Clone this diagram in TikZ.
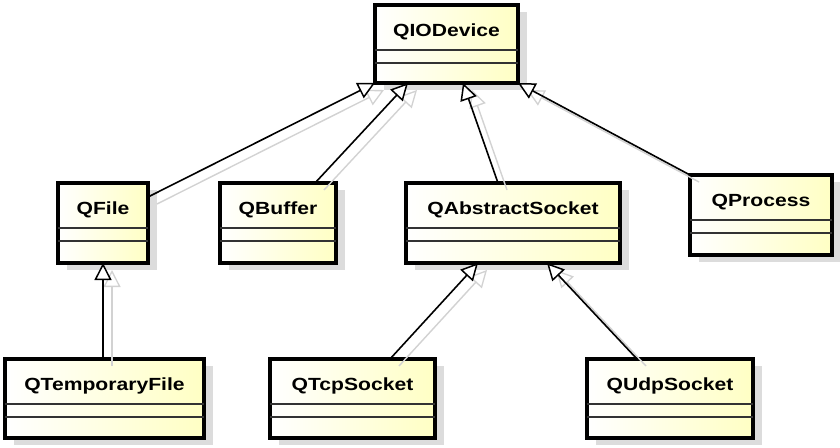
\documentclass[tikz,border=0pt]{standalone}
\usepackage{fontspec}
\setmainfont{Liberation Sans}[FakeStretch=1.2]
\usetikzlibrary{arrows.meta,calc}
\definecolor{clsyellow}{RGB}{255,255,196}
\definecolor{shadowgray}{RGB}{220,220,220}
\definecolor{ghostgray}{RGB}{210,210,210}
\tikzset{
  clsbox/.style={draw=black, line width=3.1pt, left color=white, right color=clsyellow,
    anchor=north west, inner sep=0pt, outer sep=0pt},
  clsshadow/.style={fill=shadowgray},
  clsname/.style={font=\bfseries\fontsize{17.6}{19}\selectfont, anchor=base, inner sep=0pt},
  compline/.style={draw=black!80, line width=1.8pt},
  inherit/.style={draw=black, line width=1.6pt,
    -{Triangle[length=17pt,width=17pt,fill=white,line width=1.5pt]}},
  ghost/.style={draw=ghostgray, line width=1.4pt,
    -{Triangle[length=17pt,width=17pt,fill=white,line width=1.3pt]}}
}
\newcommand{\umlclass}[6]{%
  \fill[clsshadow] (#3+9,#4+7) rectangle (#5+9,#6+7);
  \node[clsbox, minimum width={#5-#3}, minimum height={#6-#4}] (#1) at (#3,#4) {};
  \node[clsname] (#1-name) at ($(#1.north)+(0,31)$) {#2};
  \draw[compline] ($(#1.north west)+(0,45)$) -- ($(#1.north east)+(0,45)$);
  \draw[compline] ($(#1.north west)+(0,58)$) -- ($(#1.north east)+(0,58)$);
}
\newcommand{\allconnectors}[1]{%
  \draw[#1] ([yshift=-14pt]qfile.north east) -- (iodev.south west);
  \draw[#1] ([xshift=37pt]qbuffer.north) -- ([xshift=33pt]iodev.south west);
  \draw[#1] ([xshift=-15pt]qabs.north) -- ([xshift=16.5pt]iodev.south);
  \draw[#1] (qproc.north west) -- (iodev.south east);
  \draw[#1] (qtemp.north -| qfile.south) -- (qfile.south);
  \draw[#1] ([xshift=-45pt]qtcp.north east) -- ([xshift=-35pt]qabs.south);
  \draw[#1] ([xshift=-33pt]qudp.north) -- ([xshift=34pt]qabs.south);
}
\begin{document}
\begin{tikzpicture}[x=1pt,y=-1pt]
\useasboundingbox[fill=white] (0,0) rectangle (840,447);
\umlclass{iodev}{QIODevice}{375}{5}{518}{83}
\umlclass{qfile}{QFile}{58}{183}{148}{263}
\umlclass{qbuffer}{QBuffer}{220}{183}{336}{263}
\umlclass{qabs}{QAbstractSocket}{406}{183}{620}{263}
\umlclass{qproc}{QProcess}{690}{175}{832}{255}
\umlclass{qtemp}{QTemporaryFile}{5}{359}{204}{438}
\umlclass{qtcp}{QTcpSocket}{270}{359}{435}{438}
\umlclass{qudp}{QUdpSocket}{587}{359}{753}{438}
\begin{scope}[transform canvas={shift={(9,7)}}]
  \allconnectors{ghost}
\end{scope}
\allconnectors{inherit}
\end{tikzpicture}
\end{document}
